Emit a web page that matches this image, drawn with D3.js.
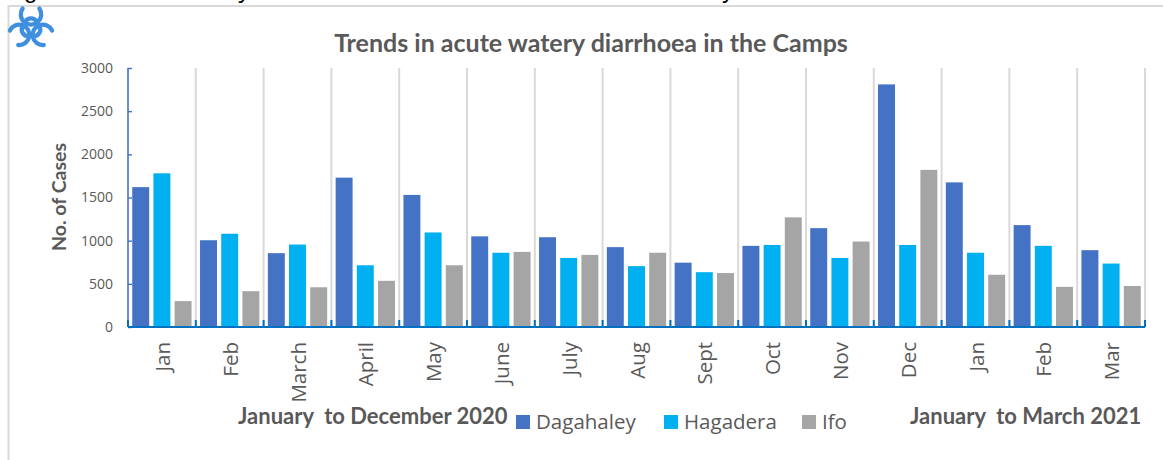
<!DOCTYPE html>
<html>
<head>
<meta charset="utf-8">
<script src="https://cdn.jsdelivr.net/npm/d3@7"></script>
<style>
html, body { margin:0; padding:0; background:#fff; overflow:hidden; }
text { font-family:"Open Sans", sans-serif; fill:#595959; white-space:pre; }
.bold { font-family:Lato, sans-serif; font-weight:bold; }
</style>
</head>
<body>
<div id="chart-area"></div>
<script>
var months = ["Jan","Feb","March","April","May","June","July","Aug","Sept","Oct","Nov","Dec","Jan","Feb","Mar"];
var dagahaley = [1620,1005,855,1730,1530,1050,1040,925,745,940,1145,2810,1675,1180,890];
var hagadera = [1780,1080,955,715,1095,860,800,705,635,950,800,950,860,940,735];
var ifo = [300,415,460,535,715,870,835,860,625,1270,990,1820,605,465,475];
var seriesNames = ["Dagahaley","Hagadera","Ifo"];
var seriesColors = ["#4472c4","#00b0f0","#a5a5a5"];
var yTicks = [0,500,1000,1500,2000,2500,3000];

var svg = d3.select("#chart-area")
    .append("svg")
        .attr("width", 1163)
        .attr("height", 460)
        .style("display", "block");

// frame of the slide
svg.append("path")
    .attr("d", "M8.5,460V6H1163")
    .attr("fill", "none")
    .attr("stroke", "#d9d9d9")
    .attr("stroke-width", 2);

// the line above the frame is cut off, only its descenders show
var cutLetters = [{ t:"g", x:24 }, { t:"y", x:238 }, { t:"y", x:722 }];
svg.selectAll(".cut")
    .data(cutLetters)
    .enter().append("text")
        .attr("class", "cut")
        .attr("x", function(d){ return d.x; })
        .attr("y", -2)
        .attr("font-size", "24px")
        .style("font-family", "Liberation Sans")
        .style("fill", "#000")
        .text(function(d){ return d.t; });

// biohazard icon
var icon = svg.append("g")
    .attr("transform", "translate(31,28) scale(0.93)")
    .attr("fill", "none")
    .attr("stroke", "#3f8fe0")
    .attr("stroke-width", 4.6)
    .attr("stroke-linecap", "round");
[0,120,240].forEach(function(a){
    var lobe = icon.append("g").attr("transform", "rotate(" + a + ")");
    lobe.append("path").attr("d", "M-9,-21A11,11 0 1 0 9,-21");
    lobe.append("path").attr("d", "M-6,2A7,7 0 0 1 6,2").attr("transform", "translate(0,-9)");
});

var margin = { left:128, right:18, top:68, bottom:133 };
var width = 1163 - margin.left - margin.right,
    height = 460 - margin.top - margin.bottom;

var g = svg.append("g")
    .attr("transform", "translate(" + margin.left + ", " + margin.top + ")");

var xScale = d3.scaleBand()
    .domain(d3.range(months.length))
    .range([0, width]);
var x1Scale = d3.scaleBand()
    .domain(seriesNames)
    .range([0, xScale.bandwidth()])
    .padding(0.2);
var yScale = d3.scaleLinear()
    .domain([0,3000])
    .range([height, 0]);

// vertical separators between months
g.selectAll(".sep")
    .data(d3.range(1, months.length + 1))
    .enter().append("line")
        .attr("class", "sep")
        .attr("x1", function(d){ return d * xScale.step(); })
        .attr("x2", function(d){ return d * xScale.step(); })
        .attr("y1", 0)
        .attr("y2", height)
        .attr("stroke", "#d9d9d9")
        .attr("stroke-width", 2);

var allValues = [dagahaley, hagadera, ifo];
seriesNames.forEach(function(name, i){
    g.selectAll(".bar" + i)
        .data(allValues[i])
        .enter().append("rect")
            .attr("class", "bar" + i)
            .attr("x", function(d, m){ return xScale(m) + x1Scale(name); })
            .attr("y", function(d){ return yScale(d); })
            .attr("width", x1Scale.bandwidth())
            .attr("height", function(d){ return height - yScale(d); })
            .attr("fill", seriesColors[i]);
});

// y axis
var yAxisCall = d3.axisLeft(yScale)
    .tickValues(yTicks)
    .tickSize(-4)
    .tickPadding(15)
    .tickFormat(function(d){ return d; });
var yAxis = g.append("g").call(yAxisCall);
yAxis.select(".domain").attr("stroke", "#4472c4").attr("stroke-width", 1.6).attr("d", "M0,0V" + height);
yAxis.selectAll("line").attr("stroke", "#4472c4").attr("stroke-width", 1.4);
yAxis.selectAll("text").attr("font-size", "14px").style("font-family", "Open Sans").style("fill", "#595959");

// x axis, ticks sit on the month boundaries
g.append("line")
    .attr("x1", 0).attr("x2", width)
    .attr("y1", height).attr("y2", height)
    .attr("stroke", "#0070c0")
    .attr("stroke-width", 2);
g.selectAll(".xtick")
    .data(d3.range(0, months.length + 1))
    .enter().append("line")
        .attr("class", "xtick")
        .attr("x1", function(d){ return d * xScale.step(); })
        .attr("x2", function(d){ return d * xScale.step(); })
        .attr("y1", height - 7)
        .attr("y2", height)
        .attr("stroke", "#0070c0")
        .attr("stroke-width", 2);

g.selectAll(".mlabel")
    .data(months)
    .enter().append("text")
        .attr("class", "mlabel")
        .attr("text-anchor", "end")
        .attr("dominant-baseline", "central")
        .attr("font-size", "20.5px")
        .attr("transform", function(d, i){
            return "translate(" + (xScale(i) + xScale.bandwidth() / 2) + "," + (height + 15) + ") rotate(-90)";
        })
        .text(function(d){ return d; });

svg.append("text")
    .attr("class", "bold")
    .attr("x", 591)
    .attr("y", 52)
    .attr("text-anchor", "middle")
    .attr("font-size", "25px")
    .text("Trends in acute watery diarrhoea in the Camps");

svg.append("text")
    .attr("class", "bold")
    .attr("transform", "translate(66,197) rotate(-90)")
    .attr("text-anchor", "middle")
    .attr("font-size", "19.5px")
    .text("No. of Cases");

svg.append("text")
    .attr("class", "bold")
    .attr("x", 238)
    .attr("y", 424)
    .attr("font-size", "22px")
    .text("January  to December 2020");
svg.append("text")
    .attr("class", "bold")
    .attr("x", 910)
    .attr("y", 424)
    .attr("font-size", "22px")
    .text("January  to March 2021");

// legend
var legendX = [516, 664, 802];
var legend = svg.selectAll(".legend")
    .data(seriesNames)
    .enter().append("g")
        .attr("class", "legend")
        .attr("transform", function(d, i){ return "translate(" + legendX[i] + ",415)"; });
legend.append("rect")
    .attr("width", 14)
    .attr("height", 14)
    .attr("fill", function(d, i){ return seriesColors[i]; });
legend.append("text")
    .attr("x", 20)
    .attr("y", 14)
    .attr("font-size", "20.5px")
    .text(function(d){ return d; });
</script>
</body>
</html>
